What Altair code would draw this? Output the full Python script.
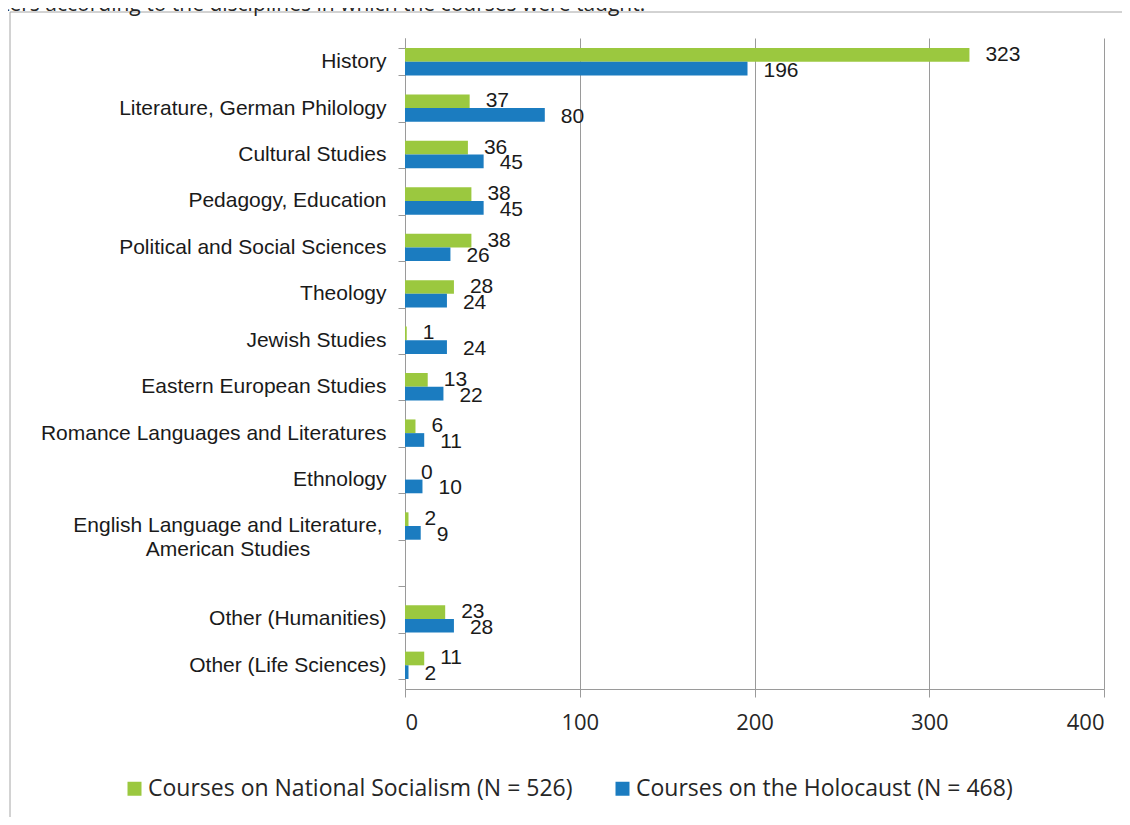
import altair as alt
import pandas as pd

# ---- data ----
categories = [
    "History",
    "Literature, German Philology",
    "Cultural Studies",
    "Pedagogy, Education",
    "Political and Social Sciences",
    "Theology",
    "Jewish Studies",
    "Eastern European Studies",
    "Romance Languages and Literatures",
    "Ethnology",
    "English Language and Literature, American Studies",
    "Other (Humanities)",
    "Other (Life Sciences)",
]
national_socialism = [323, 37, 36, 38, 38, 28, 1, 13, 6, 0, 2, 23, 11]
holocaust = [196, 80, 45, 45, 26, 24, 24, 22, 11, 10, 9, 28, 2]
series = ["Courses on National Socialism (N = 526)", "Courses on the Holocaust (N = 468)"]
series_colors = ["#9bc83f", "#1b7cc0"]
x_ticks = [0, 100, 200, 300, 400]
note = "ters according to the disciplines in which the courses were taught."

# blank slot between the named disciplines and the "Other" rows
y_domain = categories[:11] + [" "] + categories[11:]
two_line = categories[10]

rows = []
for c, a, b in zip(categories, national_socialism, holocaust):
    rows.append({"discipline": c, "series": series[0], "courses": a})
    rows.append({"discipline": c, "series": series[1], "courses": b})
df = pd.DataFrame(rows)

label_expr = "datum.label == '" + two_line + "' ? '' : datum.label"

GRAY = "#9a9a9a"
LABEL_FONT = "Liberation Sans, Arial"

y_enc = alt.Y(
    "discipline:N",
    sort=y_domain,
    scale=alt.Scale(domain=y_domain, paddingInner=0.41, paddingOuter=0.215),
    axis=alt.Axis(
        title=None,
        grid=False,
        tickBand="extent",
        tickSize=7,
        tickColor=GRAY,
        domainColor=GRAY,
        labelPadding=12,
        labelFont=LABEL_FONT,
        labelFontSize=21,
        labelColor="#1a1a1a",
        labelExpr=label_expr,
        labelLimit=500,
    ),
)
yoff = alt.YOffset("series:N", sort=series, scale=alt.Scale(domain=series, paddingInner=0, paddingOuter=0))
x_enc = alt.X(
    "courses:Q",
    scale=alt.Scale(domain=[0, 400], nice=False),
    axis=alt.Axis(
        values=x_ticks,
        title=None,
        grid=True,
        gridColor=GRAY,
        gridWidth=1,
        domainColor=GRAY,
        tickColor=GRAY,
        tickSize=8,
        labelPadding=15,
        labelFont="Open Sans",
        labelFontSize=22,
        labelColor="#262626",
    ),
)

base = alt.Chart(df)

bars = base.mark_bar().encode(
    x=x_enc,
    y=y_enc,
    yOffset=yoff,
    color=alt.Color(
        "series:N",
        sort=series,
        scale=alt.Scale(domain=series, range=series_colors),
        legend=alt.Legend(
            orient="none",
            legendX=-282,
            legendY=739,
            direction="horizontal",
            title=None,
            symbolType="square",
            symbolSize=196,
            symbolStrokeWidth=0,
            labelFont="Open Sans",
            labelFontSize=23,
            labelColor="#262626",
            labelOffset=2,
            columnPadding=38,
            labelLimit=700,
        ),
    ),
)

label_ns = base.transform_filter(alt.datum.series == series[0]).mark_text(
    align="left", baseline="middle", dx=16, dy=0, font=LABEL_FONT, fontSize=21, color="#1a1a1a"
).encode(x="courses:Q", y=alt.Y("discipline:N", sort=y_domain), yOffset=yoff, text="courses:Q")

label_ho = base.transform_filter(alt.datum.series == series[1]).mark_text(
    align="left", baseline="middle", dx=16, dy=2, font=LABEL_FONT, fontSize=21, color="#1a1a1a"
).encode(x="courses:Q", y=alt.Y("discipline:N", sort=y_domain), yOffset=yoff, text="courses:Q")

# the two-line category label, centred like the original
two_line_df = pd.DataFrame({"discipline": [two_line], "shown": [two_line.replace(", ", ",\n")]})
two_line_label = alt.Chart(two_line_df).mark_text(
    align="center", baseline="middle", lineBreak="\n", lineHeight=24,
    font=LABEL_FONT, fontSize=21, color="#1a1a1a",
).encode(
    y=alt.Y("discipline:N", sort=y_domain),
    x=alt.value(-177),
    text="shown:N",
)

deco = alt.Chart(pd.DataFrame({"k": [0]}))
frame_left = deco.mark_rule(color="#a6a6a6", strokeWidth=1).encode(
    x=alt.value(-395), y=alt.value(-26), y2=alt.value(800)
)
frame_top = deco.mark_rule(color="#a6a6a6", strokeWidth=1).encode(
    x=alt.value(-395), x2=alt.value(740), y=alt.value(-26)
)
note_text = deco.mark_text(
    text=note, align="left", baseline="alphabetic", font="Open Sans", fontSize=21, color="#262626"
).encode(x=alt.value(-403), y=alt.value(-27))

chart = (
    alt.layer(frame_left, frame_top, note_text, bars, label_ns, label_ho, two_line_label)
    .properties(
        width=699,
        height=651,
        padding={"left": 397, "top": 30, "right": 18, "bottom": 128},
        autosize=alt.AutoSizeParams(type="none"),
        background="white",
    )
    .configure_view(stroke=None)
)

chart.save("out.html", embed_options={"renderer": "svg", "actions": False})
